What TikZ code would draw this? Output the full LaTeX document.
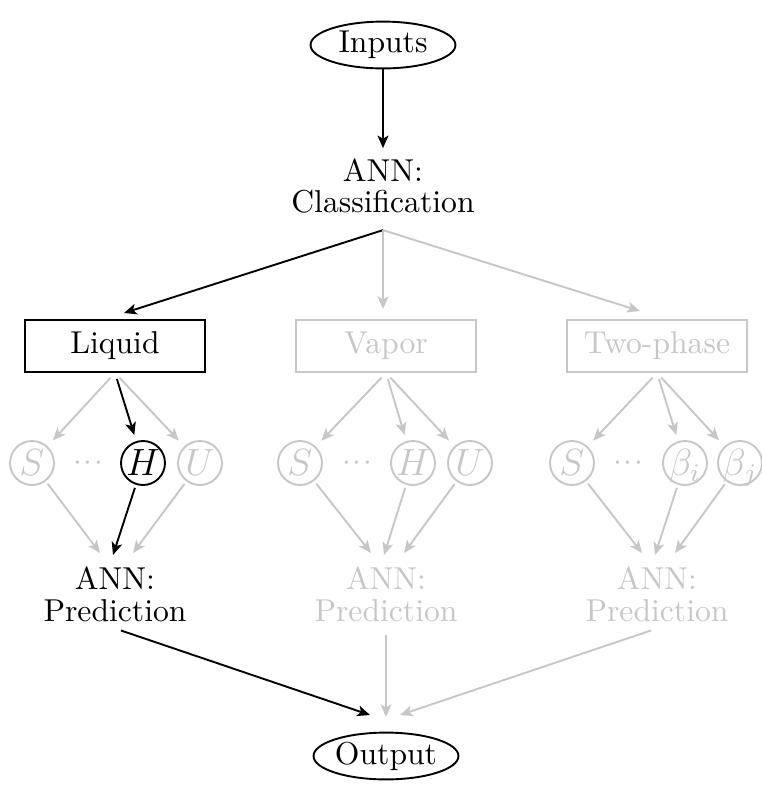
\documentclass[tikz,border=0pt]{standalone}
\usetikzlibrary{shapes.geometric,arrows.meta,calc}
\definecolor{fade}{gray}{0.78}
\newcommand{\vardots}{$\cdot\mkern1mu{\cdot}\mkern1mu{\cdot}$}
% a symbol that does not widen its circle
\newcommand{\vsym}[1]{\makebox[0pt]{$#1$}}
\begin{document}
\begin{tikzpicture}[x=0.316pt,y=-0.316pt,
  base/.style={line width=0.6pt},
  arr/.style={base,-{Stealth[length=4pt,width=3.4pt,inset=1pt]}},
  on/.style={draw=black,text=black},
  off/.style={draw=fade,text=fade},
  term/.style={ellipse,draw,base,minimum width=45.8pt,minimum height=14.8pt,inner sep=0pt},
  phase/.style={rectangle,base,minimum width=56.9pt,minimum height=16.4pt},
  var/.style={circle,base,minimum size=13.9pt,inner sep=0pt,font=\large,
    text height=8.2pt,text depth=0pt},
  ann/.style={align=center,inner sep=2pt,font=\fontsize{10}{10.1}\selectfont},
  offtext/.style={text=fade}]
\useasboundingbox (0,0) rectangle (762,795);

% top and bottom terminals
\node[term] (in) at (383,45) {Inputs};
\node[term] (out) at (386,756) {Output};

% classifier
\node[ann] (cls) at (383,186) {ANN:\\Classification};

% phase boxes
\node[phase,on]  (liq) at (115,346) {Liquid};
\node[phase,off] (vap) at (386,346) {Vapor};
\node[phase,off] (two) at (657,346) {Two-phase};

% state variables
\node[var,off] (s1) at (32,463)  {\vsym{S}};
\node[offtext] (d1) at (88,463)  {\vardots};
\node[var,on]  (h1) at (143,463) {\vsym{H}};
\node[var,off] (u1) at (200,463) {\vsym{U}};

\node[var,off] (s2) at (300,463) {\vsym{S}};
\node[offtext] (d2) at (357,463) {\vardots};
\node[var,off] (h2) at (413,463) {\vsym{H}};
\node[var,off] (u2) at (470,463) {\vsym{U}};

\node[var,off] (s3) at (572,463) {\vsym{S}};
\node[offtext] (d3) at (628,463) {\vardots};
\node[var,off] (b1) at (685,463) {\vsym{\beta_i}};
\node[var,off] (b2) at (740,463) {\vsym{\beta_j}};

% regressors
\node[ann]         (p1) at (115,594) {ANN:\\Prediction};
\node[ann,offtext] (p2) at (386,594) {ANN:\\Prediction};
\node[ann,offtext] (p3) at (657,594) {ANN:\\Prediction};

% input to classifier
\draw[arr,shorten >=1pt] (in) -- (cls);

% classifier to phases
\draw[arr] ([yshift=-3pt]cls.south) -- ($(liq)+(9,-33)$);
\draw[arr,fade] ([yshift=-3pt]cls.south) -- ($(vap)+(-3,-37)$);
\draw[arr,fade] ([yshift=-3pt]cls.south) -- ($(two)+(-17,-35)$);

% phases to variables
\draw[arr,fade,shorten <=2pt,shorten >=2.5pt] (liq.south) -- (s1);
\draw[arr,shorten <=2pt,shorten >=2pt] (liq.south) -- (h1);
\draw[arr,fade,shorten <=2pt,shorten >=2.5pt] (liq.south) -- (u1);

\draw[arr,fade,shorten <=2pt,shorten >=2.5pt] (vap.south) -- (s2);
\draw[arr,fade,shorten <=2pt,shorten >=2pt] (vap.south) -- (h2);
\draw[arr,fade,shorten <=2pt,shorten >=2.5pt] (vap.south) -- (u2);

\draw[arr,fade,shorten <=2pt,shorten >=2.5pt] (two.south) -- (s3);
\draw[arr,fade,shorten <=2pt,shorten >=2pt] (two.south) -- (b1);
\draw[arr,fade,shorten <=2pt,shorten >=2.5pt] (two.south) -- (b2);

% variables to regressors
\draw[arr,fade,shorten <=1pt] (s1) -- ($(p1)+(-15,-41)$);
\draw[arr,shorten <=1pt] (h1) -- ($(p1)+(-2,-39)$);
\draw[arr,fade,shorten <=1pt] (u1) -- ($(p1)+(18,-41)$);

\draw[arr,fade,shorten <=1pt] (s2) -- ($(p2)+(-15,-41)$);
\draw[arr,fade,shorten <=1pt] (h2) -- ($(p2)+(-2,-39)$);
\draw[arr,fade,shorten <=1pt] (u2) -- ($(p2)+(18,-41)$);

\draw[arr,fade,shorten <=1pt] (s3) -- ($(p3)+(-15,-41)$);
\draw[arr,fade,shorten <=1pt] (b1) -- ($(p3)+(-2,-39)$);
\draw[arr,fade,shorten <=1pt] (b2) -- ($(p3)+(18,-41)$);

% regressors to output
\draw[arr,shorten <=2pt] (p1.south) -- ($(out)+(-16,-41)$);
\draw[arr,fade,shorten <=2pt] (p2.south) -- ($(out)+(0,-39)$);
\draw[arr,fade,shorten <=2pt] (p3.south) -- ($(out)+(14,-41)$);
\end{tikzpicture}
\end{document}
